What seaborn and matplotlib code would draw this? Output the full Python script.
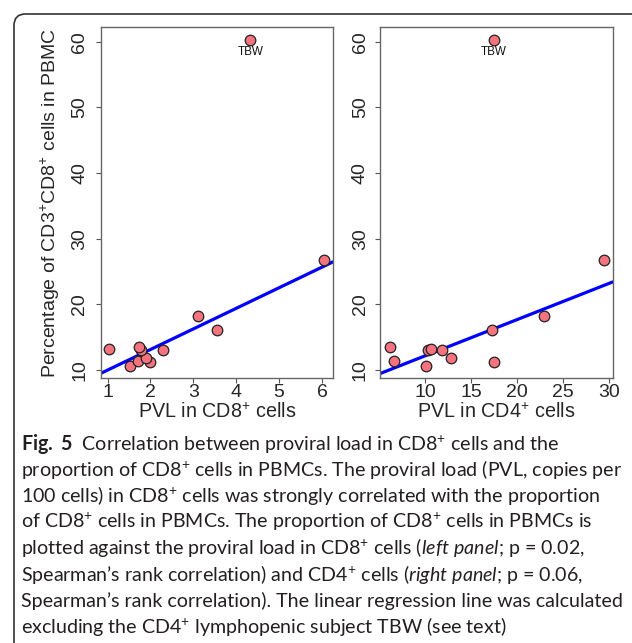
import matplotlib
matplotlib.use("Agg")
import matplotlib.pyplot as plt
from matplotlib.patches import FancyBboxPatch
import seaborn as sns
import pandas as pd
import numpy as np

# ---- data ----
subjects = ["", "", "", "", "", "", "", "", "", "", "", "TBW"]
pct_cd8 = [10.6, 11.15, 11.4, 11.8, 13.05, 13.05, 13.15, 13.55, 16.15, 18.2, 26.75, 60.2]
pvl_cd8 = [1.52, 2.00, 1.70, 1.89, 1.79, 2.29, 1.04, 1.73, 3.55, 3.10, 6.04, 4.33]
pvl_cd4 = [10.15, 17.46, 6.59, 12.8, 10.27, 11.87, 10.64, 6.14, 17.3, 22.9, 29.5, 17.5]

yticks = [10, 20, 30, 40, 50, 60]
xticks_left = [1, 2, 3, 4, 5, 6]
xticks_right = [10, 15, 20, 25, 30]

caption_lines = [
    r"$\bf{Fig.\ 5}$  Correlation between proviral load in CD8$^{+}$ cells and the",
    r"proportion of CD8$^{+}$ cells in PBMCs. The proviral load (PVL, copies per",
    r"100 cells) in CD8$^{+}$ cells was strongly correlated with the proportion",
    r"of CD8$^{+}$ cells in PBMCs. The proportion of CD8$^{+}$ cells in PBMCs is",
    r"plotted against the proviral load in CD8$^{+}$ cells ($\it{left\ panel}$; p = 0.02,",
    r"Spearman’s rank correlation) and CD4$^{+}$ cells ($\it{right\ panel}$; p = 0.06,",
    r"Spearman’s rank correlation). The linear regression line was calculated",
    r"excluding the CD4$^{+}$ lymphopenic subject TBW (see text)",
]

df = pd.DataFrame({"subject": subjects, "pct": pct_cd8, "cd8": pvl_cd8, "cd4": pvl_cd4})
fit = df[df["subject"] != "TBW"]

sns.set_style("white")
plt.rcParams["font.family"] = ["Liberation Sans", "DejaVu Sans"]
plt.rcParams["mathtext.fontset"] = "custom"
plt.rcParams["mathtext.rm"] = "Lato"
plt.rcParams["mathtext.it"] = "Lato:italic"
plt.rcParams["mathtext.bf"] = "Lato:bold"

W, H = 632, 643
fig = plt.figure(figsize=(W / 100, H / 100), dpi=100)


def rect(l, t, r, b):
    return [l / W, 1 - b / H, (r - l) / W, (b - t) / H]


ax1 = fig.add_axes(rect(100.7, 27.3, 332.7, 378.3))
ax2 = fig.add_axes(rect(380, 27.3, 612.7, 378.3))

panels = [
    (ax1, "cd8", (0.84, 6.25), xticks_left, r"PVL in CD8$^{+}$ cells", 5.5),
    (ax2, "cd4", (5.1, 30.4), xticks_right, r"PVL in CD4$^{+}$ cells", 4.5),
]
ylim = (8.73, 62.2)

for ax, col, xlim, xt, xlab, ypad in panels:
    ax.set_xlim(*xlim)
    ax.set_ylim(*ylim)
    sns.regplot(data=fit, x=col, y="pct", ax=ax, scatter=False, ci=None,
                truncate=False, color="#0000FF", line_kws={"lw": 2.3, "zorder": 2})
    sns.scatterplot(data=df, x=col, y="pct", ax=ax, s=58, color="#F4737F",
                    edgecolor="#222222", linewidth=0.9, zorder=3, legend=False)
    tbw = df[df["subject"] == "TBW"].iloc[0]
    ax.text(tbw[col], tbw["pct"] - 1.7, "TBW", ha="center", va="center",
            fontsize=8.4, color="#111111")
    ax.set_xlim(*xlim)
    ax.set_ylim(*ylim)
    ax.set_xticks(xt)
    ax.set_xticklabels([str(v) for v in xt], fontsize=14)
    ax.set_yticks(yticks)
    ax.set_yticklabels([str(v) for v in yticks], fontsize=14, rotation=90, va="center")
    ax.tick_params(axis="both", direction="out", length=3.5, width=0.8, color="#555555",
                   left=True, bottom=True)
    ax.tick_params(axis="y", pad=ypad)
    ax.tick_params(axis="x", pad=0.5)
    for s in ax.spines.values():
        s.set_color("#666666")
        s.set_linewidth(1.0)
    ax.set_ylabel("")
    ax.set_xlabel(xlab, fontsize=14.2)
    ax.xaxis.set_label_coords(0.5, -0.098)
    ax.xaxis.label.set_va("center")

fig.text(50 / W, 1 - 203 / H, r"Percentage of CD3$^{+}$CD8$^{+}$ cells in PBMC",
         rotation=90, ha="center", va="center", fontsize=14)

# caption
for i, line in enumerate(caption_lines):
    fig.text(21 / W, 1 - (450 + 26.1 * i) / H, line, ha="left", va="baseline",
             fontsize=14.1, family=["Lato", "DejaVu Sans"], color="#231F20")

# outer rounded frame
frame = FancyBboxPatch((14 / W, -0.2), 1.2, 1.2 - 14 / H,
                       boxstyle="round,pad=0,rounding_size=0.018",
                       transform=fig.transFigure, fill=False,
                       edgecolor="#333333", linewidth=1.2, zorder=0)
fig.patches.append(frame)

fig.savefig("out.png", dpi=100)
